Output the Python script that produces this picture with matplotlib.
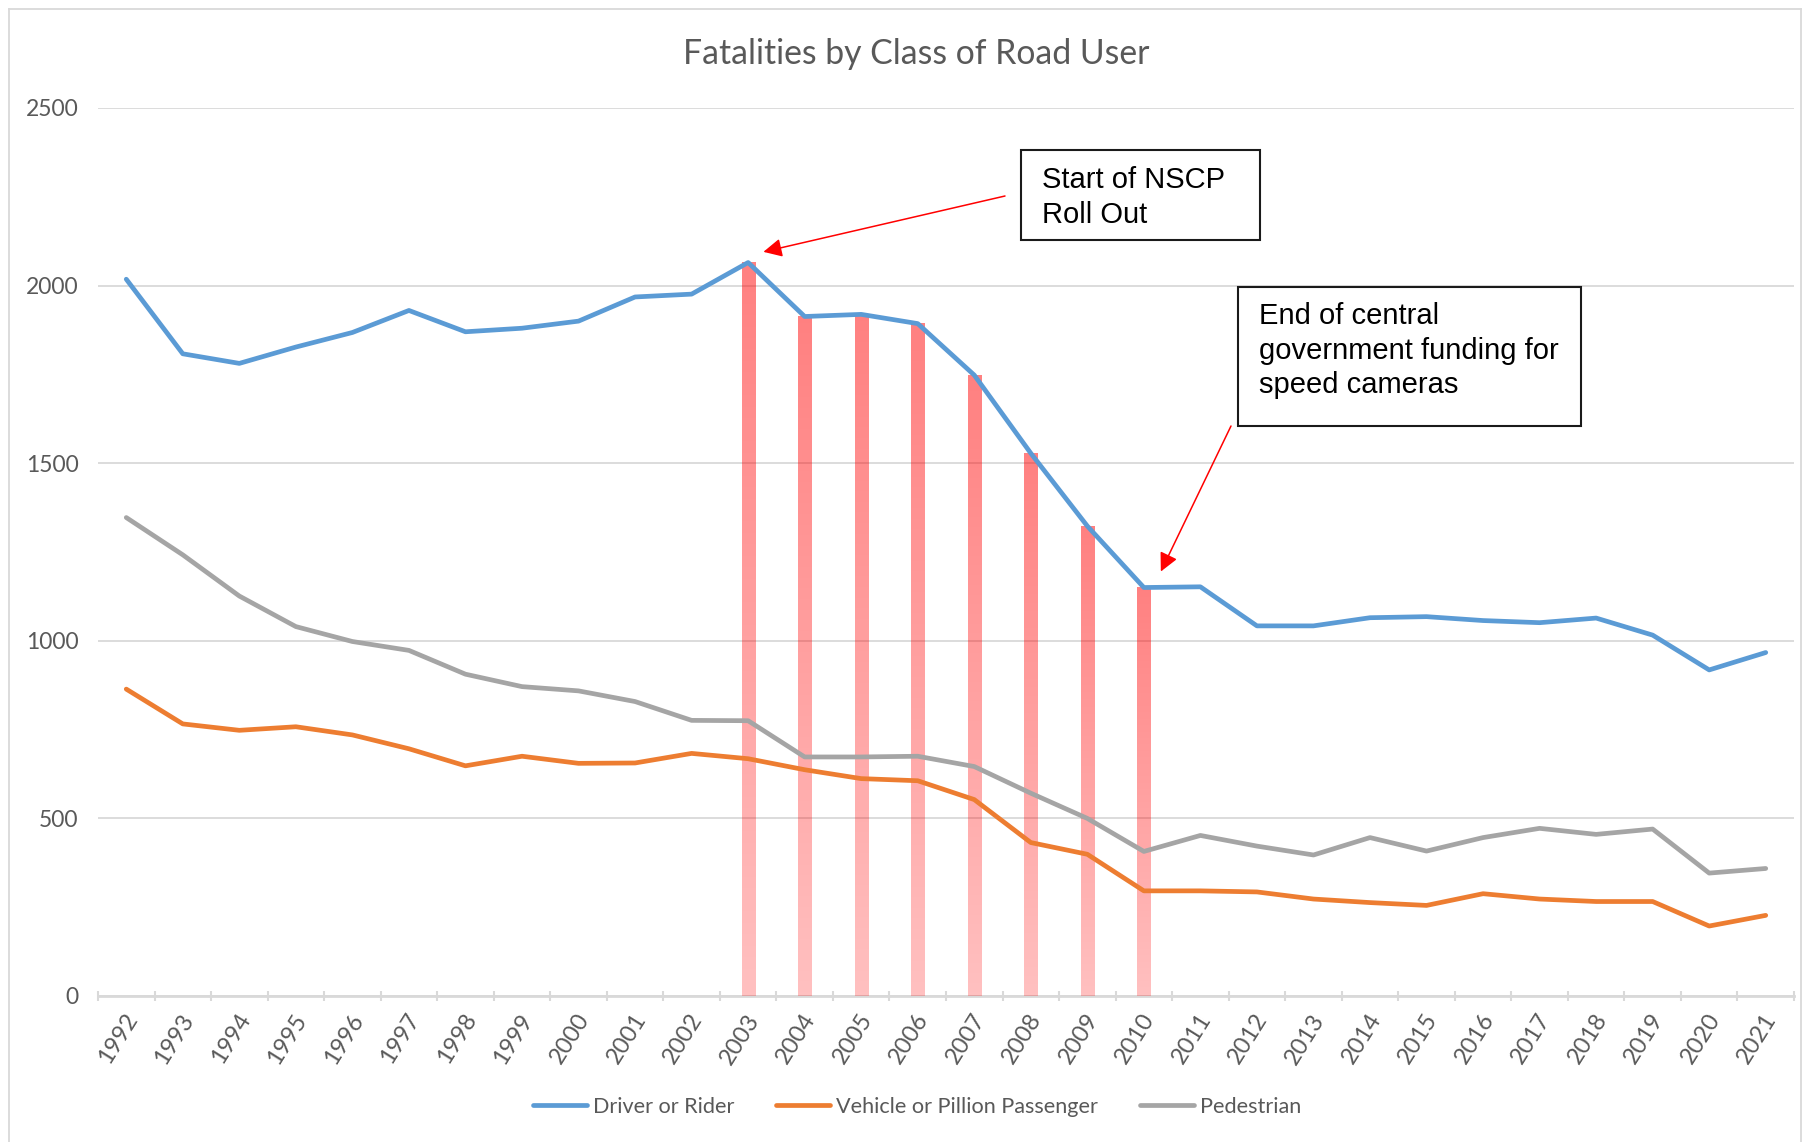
import matplotlib
matplotlib.use("Agg")
import matplotlib.pyplot as plt
import numpy as np
from matplotlib.lines import Line2D
from matplotlib.patches import Rectangle
from matplotlib.transforms import ScaledTranslation

# ---------------- data ----------------
years = [str(y) for y in range(1992, 2022)]
driver = [2018, 1808, 1781, 1827, 1868, 1930, 1870, 1880, 1900, 1968,
          1976, 2065, 1913, 1919, 1893, 1748, 1528, 1323, 1150, 1152,
          1042, 1042, 1065, 1068, 1057, 1051, 1064, 1016, 918, 967]
vehicle = [864, 766, 748, 758, 735, 696, 648, 675, 655, 656,
           683, 668, 637, 612, 606, 553, 432, 399, 296, 296,
           293, 273, 263, 255, 288, 273, 266, 266, 197, 227]
pedestrian = [1347, 1242, 1126, 1040, 998, 973, 906, 871, 859, 829,
              776, 775, 673, 673, 675, 646, 571, 500, 407, 452,
              422, 397, 446, 408, 446, 472, 455, 470, 346, 359]
highlight_years = ['2003', '2004', '2005', '2006', '2007', '2008', '2009', '2010']
series_names = ['Driver or Rider', 'Vehicle or Pillion Passenger', 'Pedestrian']
title = 'Fatalities by Class of Road User'
note1 = 'Start of NSCP\nRoll Out'
note2 = 'End of central\ngovernment funding for\nspeed cameras'

# ---------------- style ----------------
W, H = 1805, 1142
BLUE, ORANGE, GRAY = '#5B9BD5', '#ED7D31', '#A5A5A5'
TXT = '#595959'
GRID = '#D9D9D9'
UI = ['Lato', 'DejaVu Sans']
ARIAL = ['Liberation Sans', 'DejaVu Sans']

fig = plt.figure(figsize=(W / 100, H / 100), dpi=100)
fig.patch.set_facecolor('white')

def fx(px):
    return px / W

def fy(py):
    return 1 - py / H

# chart border
for (x0, y0, x1, y1) in [(9, 9, 9, H + 5), (9, 9, W - 4, 9), (W - 4, 9, W - 4, H + 5)]:
    fig.add_artist(Line2D([fx(x0), fx(x1)], [fy(y0), fy(y1)], color=GRID, lw=1.3,
                          transform=fig.transFigure))

left, right, top, bottom = 98, 1794, 108, 996
ax = fig.add_axes([fx(left), fy(bottom), fx(right - left), (bottom - top) / H])

x = np.arange(len(years))

# gridlines
ax.set_yticks([0, 500, 1000, 1500, 2000, 2500])
ax.yaxis.grid(True, color=GRID, lw=1.3, zorder=0)
ax.set_axisbelow(True)
for s in ['top', 'right', 'left']:
    ax.spines[s].set_visible(False)
ax.spines['bottom'].set_color(GRID)
ax.spines['bottom'].set_linewidth(2)
ax.spines['bottom'].set_zorder(1)

ax.tick_params(axis='y', length=0, pad=14, labelsize=16.5, labelcolor=TXT)
for lab in ax.get_yticklabels():
    lab.set_family(UI)

# x ticks: labels at centers, tick marks at boundaries
ax.set_xticks(x)
ax.set_xticklabels(years, rotation=58, ha='right', va='top', rotation_mode='anchor',
                   fontsize=17, color=TXT, family=UI)
ax.tick_params(axis='x', length=0, pad=10)
ax.xaxis.set_tick_params(which='minor', length=7, width=1.5, color=GRID, direction='inout')
ax.set_xticks(np.arange(-0.5, len(years), 1.0), minor=True)
off = ScaledTranslation(-3 / 100, 0, fig.dpi_scale_trans)
for lab in ax.get_xticklabels():
    lab.set_transform(lab.get_transform() + off)

# gradient highlight bars
bw = 0.23
grad = np.zeros((256, 1, 4))
grad[..., 0] = 1.0
grad[:, 0, 3] = np.linspace(0.25, 0.5, 256)  # bottom -> top
for yr in highlight_years:
    i = years.index(yr)
    h = driver[i]
    ax.imshow(grad, extent=[i - bw / 2, i + bw / 2, 0, h], origin='lower',
              aspect='auto', zorder=2, interpolation='bilinear')
ax.set_xlim(-0.5, len(years) - 0.5)
ax.set_ylim(0, 2500)

# lines
lw = 3.4
for vals, c in ((driver, BLUE), (vehicle, ORANGE), (pedestrian, GRAY)):
    ax.plot(x, vals, color=c, lw=lw, zorder=4, solid_capstyle='round', solid_joinstyle='round')

# title
fig.text(fx(916), fy(54), title, ha='center', va='center', fontsize=24.3, color=TXT, family=UI)

# annotation boxes
def box(x0, y0, x1, y1):
    fig.add_artist(Rectangle((fx(x0), fy(y1)), fx(x1 - x0), (y1 - y0) / H,
                             transform=fig.transFigure, fill=False, ec='#1a1a1a', lw=1.5, zorder=10))

box(1021, 150, 1260, 240)
fig.text(fx(1042), fy(166), note1, ha='left', va='top', fontsize=21, family=ARIAL,
         color='black', linespacing=1.3)
box(1238, 287, 1581, 426)
fig.text(fx(1259), fy(302), note2, ha='left', va='top', fontsize=21, family=ARIAL,
         color='black', linespacing=1.3)

# arrows (tips near data points)
i03 = years.index('2003')
i10 = years.index('2010')
ax.annotate('', xy=(i03 + 0.27, driver[i03] + 30), xycoords='data',
            xytext=(fx(1005), fy(196)), textcoords='figure fraction',
            arrowprops=dict(arrowstyle='-|>', color='red', lw=1.1, mutation_scale=28,
                            shrinkA=0, shrinkB=0), zorder=6)
ax.annotate('', xy=(i10 + 0.3, driver[i10] + 45), xycoords='data',
            xytext=(fx(1231), fy(426)), textcoords='figure fraction',
            arrowprops=dict(arrowstyle='-|>', color='red', lw=1.1, mutation_scale=28,
                            shrinkA=0, shrinkB=0), zorder=6)

# legend
handles = [Line2D([], [], color=c, lw=lw, solid_capstyle='round') for c in (BLUE, ORANGE, GRAY)]
leg = fig.legend(handles, series_names, loc='center', bbox_to_anchor=(fx(917), fy(1107)),
                 ncol=3, frameon=False, handlelength=2.5, handletextpad=0.3,
                 columnspacing=1.9, prop={'family': UI, 'size': 15.6})
for t in leg.get_texts():
    t.set_color(TXT)

fig.savefig('out.png', dpi=100, facecolor='white')
